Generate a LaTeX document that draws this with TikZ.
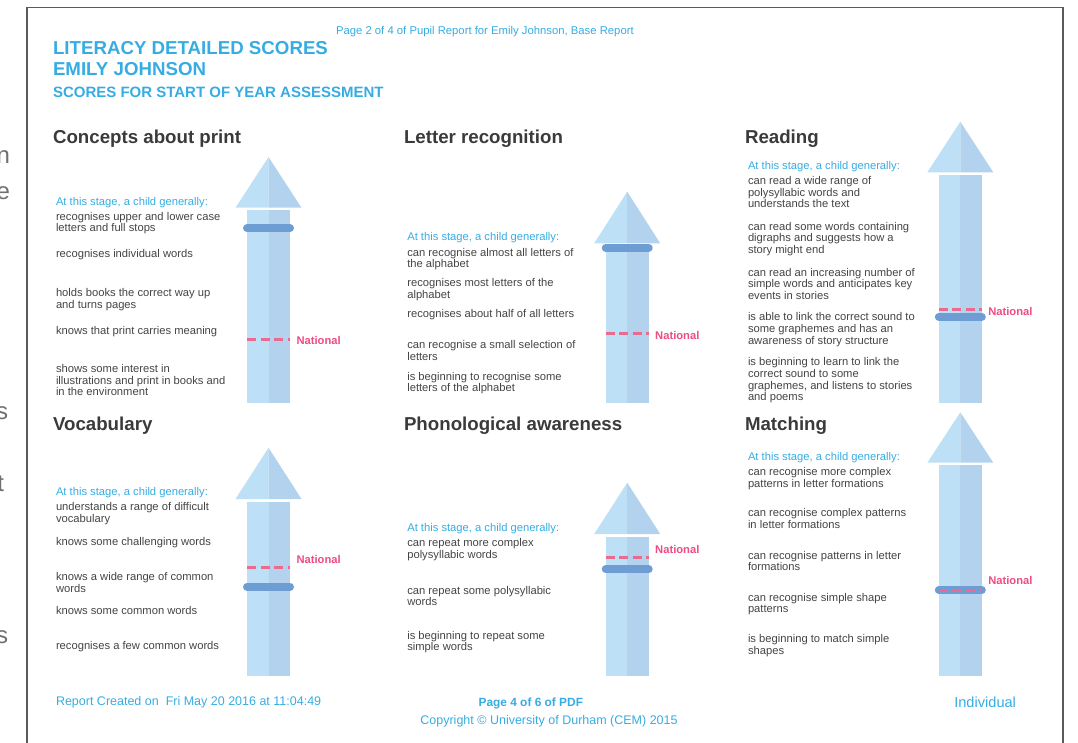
\documentclass[tikz,border=0pt]{standalone}
\usepackage{fontspec}
\setmainfont{Liberation Sans}
\usetikzlibrary{positioning}

\definecolor{hblue}{HTML}{36ACE2}
\definecolor{ttlgray}{HTML}{3A3A3A}
\definecolor{txtgray}{HTML}{444444}
\definecolor{arrowl}{HTML}{BEE0F6}
\definecolor{arrowr}{HTML}{B2D2EE}
\definecolor{bandblue}{HTML}{6D9DD3}
\definecolor{natpink}{HTML}{EA6A90}
\definecolor{natred}{HTML}{EE4C82}
\definecolor{framegray}{HTML}{5A5A5A}
\definecolor{ghostgray}{HTML}{707070}

\begin{document}
\begin{tikzpicture}[
x=1pt,
y=-1pt,
every node/.style={
  inner sep=0pt,
  outer sep=0pt
  },
head/.style={
  anchor=base west,
  text=hblue,
  font=\fontsize{18.7}{20}\selectfont\bfseries
  },
subhead/.style={
  anchor=base west,
  text=hblue,
  font=\fontsize{15}{17}\selectfont\bfseries
  },
paneltitle/.style={
  anchor=base west,
  text=ttlgray,
  font=\fontsize{18.7}{20}\selectfont\bfseries
  },
stage/.style={
  anchor=base west,
  text=hblue,
  font=\fontsize{11.2}{11.7}\selectfont
  },
item/.style={
  anchor=north west,
  yshift=8.2pt,
  align=left,
  text=txtgray,
  font=\fontsize{11.2}{11.7}\selectfont
  },
foot/.style={
  text=hblue,
  font=\fontsize{12.5}{14}\selectfont
  },
natlabel/.style={
  anchor=base west,
  text=natred,
  font=\fontsize{11.2}{13}\selectfont\bfseries
  },
ghost/.style={
  anchor=base east,
  text=ghostgray,
  font=\fontsize{24}{26}\selectfont
  },
band/.style={
  draw=bandblue,
  line width=8pt,
  line cap=round
  },
natline/.style={
  draw=natpink,
  line width=2.5pt,
  dash pattern=on 9pt off 4.5pt
  }
]
\useasboundingbox (0,0) rectangle (1078,742);

% page behind and frame
\node[ghost] (g1) at (10,163) {n};
\node[ghost] (g2) at (10,199) {e};
\node[ghost] (g3) at (8,419) {s};
\node[ghost] (g4) at (4,491) {t};
\node[ghost] (g5) at (8,643) {s};
\draw[framegray, line width=1.5pt] (27,760) -- (27,7.5) -- (1063,7.5) -- (1063,760);

% header
\node[anchor=base west, text=hblue, font=\fontsize{11.3}{13}\selectfont] (pageinfo) at (336,34)
  {Page 2 of 4 of Pupil Report for Emily Johnson, Base Report};
\node[head] (lit) at (53,54.7) {LITERACY DETAILED SCORES};
\node[head] (pupil) at (53,75.7) {EMILY JOHNSON};
\node[subhead] (assess) at (53,97.4) {SCORES FOR START OF YEAR ASSESSMENT};

% arrows
\foreach \cx/\tip/\base/\bot/\band/\nat/\laby [count=\n] in {
  268.5/157/207.7/402.7/228.3/339.3/340.7,
  627.2/191.7/243.3/402.7/247.7/333.3/335,
  960.3/121.7/172.3/402.7/316.7/309.3/311,
  268.5/447.7/499/676/586.7/567.7/559.3,
  627.2/482.7/534/676/569.3/557.7/549.3,
  960.3/412.3/462.7/676/590/590/580}
{
  \fill[arrowl] (\cx,\tip) -- (\cx-33,\base) -- (\cx,\base) -- cycle;
  \fill[arrowr] (\cx,\tip) -- (\cx+33,\base) -- (\cx,\base) -- cycle;
  \fill[arrowl] (\cx-21.5,\base+2.7) rectangle (\cx,\bot);
  \fill[arrowr] (\cx,\base+2.7) rectangle (\cx+21.5,\bot);
  \draw[band] (\cx-21.5,\band) -- (\cx+21.5,\band);
  \draw[natline] (\cx-21.5,\nat) -- (\cx+21.5,\nat);
  \node[natlabel] (nat-\n) at (\cx+28,\laby+4) {National};
}

% concepts about print
\node[paneltitle] (cap-title) at (53,143.3) {Concepts about print};
\node[stage] (cap-stage) at (56,205.2) {At this stage, a child generally:};
\foreach \yy/\txt [count=\i] in {
  220.2/{recognises upper and lower case\\letters and full stops},
  257.8/{recognises individual words},
  296.8/{holds books the correct way up\\and turns pages},
  334.5/{knows that print carries meaning},
  372.5/{shows some interest in\\illustrations and print in books and\\in the environment}}
  \node[item] (cap-\i) at (56,\yy) {\strut\txt};

% letter recognition
\node[paneltitle] (let-title) at (404,143.3) {Letter recognition};
\node[stage] (let-stage) at (407.3,240.8) {At this stage, a child generally:};
\foreach \yy/\txt [count=\i] in {
  256.2/{can recognise almost all letters of\\the alphabet},
  286.8/{recognises most letters of the\\alphabet},
  317.5/{recognises about half of all letters},
  348.5/{can recognise a small selection of\\letters},
  380.2/{is beginning to recognise some\\letters of the alphabet}}
  \node[item] (let-\i) at (407.3,\yy) {\strut\txt};

% reading
\node[paneltitle] (read-title) at (745,143.3) {Reading};
\node[stage] (read-stage) at (748,169.5) {At this stage, a child generally:};
\foreach \yy/\txt [count=\i] in {
  184.5/{can read a wide range of\\polysyllabic words and\\understands the text},
  230.2/{can read some words containing\\digraphs and suggests how a\\story might end},
  276.2/{can read an increasing number of\\simple words and anticipates key\\events in stories},
  320.8/{is able to link the correct sound to\\some graphemes and has an\\awareness of story structure},
  365.8/{is beginning to learn to link the\\correct sound to some\\graphemes, and listens to stories\\and poems}}
  \node[item] (read-\i) at (748,\yy) {\strut\txt};

% vocabulary
\node[paneltitle] (voc-title) at (53,430.7) {Vocabulary};
\node[stage] (voc-stage) at (56,495.8) {At this stage, a child generally:};
\foreach \yy/\txt [count=\i] in {
  510.8/{understands a range of difficult\\vocabulary},
  545.8/{knows some challenging words},
  580.8/{knows a wide range of common\\words},
  614.5/{knows some common words},
  649.5/{recognises a few common words}}
  \node[item] (voc-\i) at (56,\yy) {\strut\txt};

% phonological awareness
\node[paneltitle] (pho-title) at (404,430.7) {Phonological awareness};
\node[stage] (pho-stage) at (407.3,531.8) {At this stage, a child generally:};
\foreach \yy/\txt [count=\i] in {
  546.8/{can repeat more complex\\polysyllabic words},
  594.2/{can repeat some polysyllabic\\words},
  639.2/{is beginning to repeat some\\simple words}}
  \node[item] (pho-\i) at (407.3,\yy) {\strut\txt};

% matching
\node[paneltitle] (mat-title) at (745,430.7) {Matching};
\node[stage] (mat-stage) at (748,460.8) {At this stage, a child generally:};
\foreach \yy/\txt [count=\i] in {
  475.8/{can recognise more complex\\patterns in letter formations},
  516.8/{can recognise complex patterns\\in letter formations},
  559.2/{can recognise patterns in letter\\formations},
  601.2/{can recognise simple shape\\patterns},
  642.8/{is beginning to match simple\\shapes}}
  \node[item] (mat-\i) at (748,\yy) {\strut\txt};

% footer
\node[foot, anchor=base west] (created) at (56,705.5) {Report Created on~ Fri May 20 2016 at 11:04:49};
\node[foot, anchor=base, font=\fontsize{11.9}{14}\selectfont\bfseries] (pdfpage) at (530.8,706) {Page 4 of 6 of PDF};
\node[foot, anchor=base] (copy) at (549,724.5) {Copyright © University of Durham (CEM) 2015};
\node[foot, anchor=base west, font=\fontsize{14.6}{16}\selectfont] (indiv) at (954.3,707) {Individual};
\end{tikzpicture}
\end{document}
